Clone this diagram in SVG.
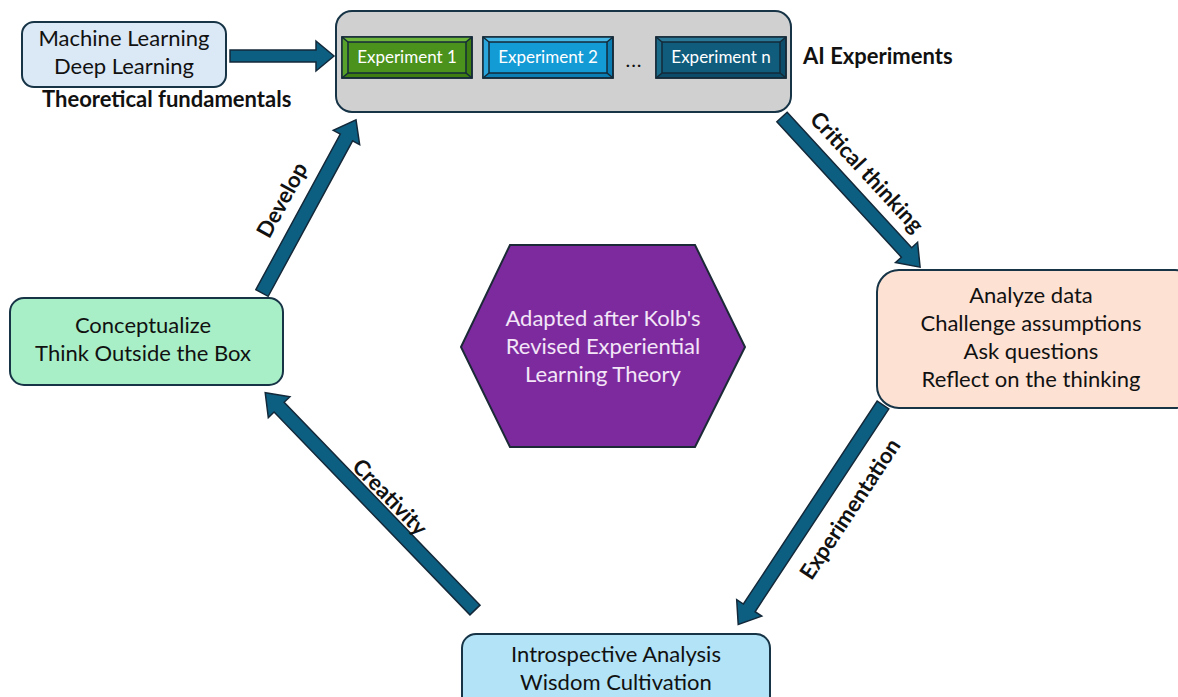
<svg xmlns="http://www.w3.org/2000/svg" width="1178" height="697" viewBox="0 0 1178 697">
  <style>
    .box { stroke: #163446; stroke-width: 2; }
    .txt { font-family: Lato, "Liberation Sans", sans-serif; font-size: 22px; fill: #111; text-anchor: middle; }
    .lbl { font-family: Lato, "Liberation Sans", sans-serif; font-size: 22px; font-weight: bold; fill: #111; }
    .exp { font-family: Lato, "Liberation Sans", sans-serif; font-size: 17px; fill: #fff; text-anchor: middle; }
    .arrow { fill: #0d5f82; stroke: #13293a; stroke-width: 1.5; stroke-linejoin: miter; }
    .bev { stroke: #142a38; stroke-width: 1.5; }
  </style>

  <!-- Connectors: block arrows drawn along the x-axis, then placed -->
  <g id="connectors">
    <polygon class="arrow" transform="translate(230,56)" points="0,-6 86,-6 86,-15 104,0 86,15 86,6 0,6"/>
    <polygon class="arrow" transform="translate(782,117) rotate(47.4)" points="0,-7 184,-7 184,-15 204,0 184,15 184,7 0,7"/>
    <polygon class="arrow" transform="translate(883,405) rotate(123.4)" points="0,-7 243,-7 243,-15 263,0 243,15 243,7 0,7"/>
    <polygon class="arrow" transform="translate(475,610) rotate(-134)" points="0,-7 282,-7 282,-15 302,0 282,15 282,7 0,7"/>
    <polygon class="arrow" transform="translate(262,293) rotate(-61.5)" points="0,-7 177,-7 177,-15 197,0 177,15 177,7 0,7"/>
    <text class="lbl" text-anchor="middle" dy="0.35em" transform="translate(867,172) rotate(47.4)">Critical thinking</text>
    <text class="lbl" text-anchor="middle" dy="0.35em" transform="translate(850,509) rotate(-56.6)">Experimentation</text>
    <text class="lbl" text-anchor="middle" dy="0.35em" transform="translate(390,497) rotate(46)">Creativity</text>
    <text class="lbl" text-anchor="middle" dy="0.35em" transform="translate(282,200) rotate(-61.5)">Develop</text>
  </g>

  <!-- Theoretical fundamentals -->
  <g id="theory">
    <rect class="box" x="22" y="22" width="204" height="65" rx="12" fill="#dbe8f6"/>
    <text class="txt" x="124" y="46">Machine Learning</text>
    <text class="txt" x="124" y="74">Deep Learning</text>
    <text class="lbl" x="42" y="107">Theoretical fundamentals</text>
  </g>

  <!-- AI experiments container -->
  <g id="ai-experiments">
    <rect class="box" x="336" y="11" width="455" height="101" rx="16" fill="#d0d0d0"/>
    <text class="lbl" x="803" y="64">AI Experiments</text>
  </g>

  <g id="experiment-1">
    <rect class="bev" x="342" y="37" width="130" height="41" fill="#3d7d12"/>
    <polygon points="342,37 472,37 466,42 348,42" fill="#6cb43a"/>
    <polygon points="342,37 348,42 348,73 342,78" fill="#57a02a"/>
    <rect class="bev" x="348" y="42" width="118" height="31" fill="#4a921c"/>
    <line class="bev" x1="342" y1="37" x2="348" y2="42"/><line class="bev" x1="472" y1="37" x2="466" y2="42"/>
    <line class="bev" x1="342" y1="78" x2="348" y2="73"/><line class="bev" x1="472" y1="78" x2="466" y2="73"/>
    <rect class="bev" x="342" y="37" width="130" height="41" fill="none"/>
    <text class="exp" x="407" y="63">Experiment 1</text>
  </g>

  <g id="experiment-2">
    <rect class="bev" x="483" y="37" width="130" height="41" fill="#0b7fb4"/>
    <polygon points="483,37 613,37 607,42 489,42" fill="#47b8e6"/>
    <polygon points="483,37 489,42 489,73 483,78" fill="#2aa6dc"/>
    <rect class="bev" x="489" y="42" width="118" height="31" fill="#139bd6"/>
    <line class="bev" x1="483" y1="37" x2="489" y2="42"/><line class="bev" x1="613" y1="37" x2="607" y2="42"/>
    <line class="bev" x1="483" y1="78" x2="489" y2="73"/><line class="bev" x1="613" y1="78" x2="607" y2="73"/>
    <rect class="bev" x="483" y="37" width="130" height="41" fill="none"/>
    <text class="exp" x="548" y="63">Experiment 2</text>
  </g>

  <text x="634" y="67" font-family="Lato, 'Liberation Sans', sans-serif" font-size="20" letter-spacing="1" fill="#111" text-anchor="middle">...</text>

  <g id="experiment-n">
    <rect class="bev" x="656" y="37" width="130" height="41" fill="#0a4c69"/>
    <polygon points="656,37 786,37 780,42 662,42" fill="#2a7898"/>
    <polygon points="656,37 662,42 662,73 656,78" fill="#1a6a8a"/>
    <rect class="bev" x="662" y="42" width="118" height="31" fill="#0f5c7d"/>
    <line class="bev" x1="656" y1="37" x2="662" y2="42"/><line class="bev" x1="786" y1="37" x2="780" y2="42"/>
    <line class="bev" x1="656" y1="78" x2="662" y2="73"/><line class="bev" x1="786" y1="78" x2="780" y2="73"/>
    <rect class="bev" x="656" y="37" width="130" height="41" fill="none"/>
    <text class="exp" x="721" y="63">Experiment n</text>
  </g>

  <!-- Reflection -->
  <g id="reflect">
    <rect class="box" x="877" y="270" width="320" height="138" rx="22" fill="#fde1d3"/>
    <text class="txt" x="1031" y="303">Analyze data</text>
    <text class="txt" x="1031" y="331">Challenge assumptions</text>
    <text class="txt" x="1031" y="359">Ask questions</text>
    <text class="txt" x="1031" y="387">Reflect on the thinking</text>
  </g>

  <!-- Introspection -->
  <g id="introspect">
    <rect class="box" x="462" y="634" width="308" height="80" rx="14" fill="#b2e3f6"/>
    <text class="txt" x="616" y="662">Introspective Analysis</text>
    <text class="txt" x="616" y="690">Wisdom Cultivation</text>
  </g>

  <!-- Conceptualize -->
  <g id="conceptualize">
    <rect class="box" x="10" y="298" width="273" height="87" rx="14" fill="#a8efc8"/>
    <text class="txt" x="143" y="333">Conceptualize</text>
    <text class="txt" x="143" y="361">Think Outside the Box</text>
  </g>

  <!-- Central hexagon -->
  <g id="kolb">
    <polygon points="461,347 510,245 695,245 745,347 695,447 510,447" fill="#7e2a9f" stroke="#1b2a36" stroke-width="2"/>
    <text class="txt" x="603" y="326" style="fill:#f2e6f7">Adapted after Kolb's</text>
    <text class="txt" x="603" y="354" style="fill:#f2e6f7">Revised Experiential</text>
    <text class="txt" x="603" y="382" style="fill:#f2e6f7">Learning Theory</text>
  </g>
</svg>
